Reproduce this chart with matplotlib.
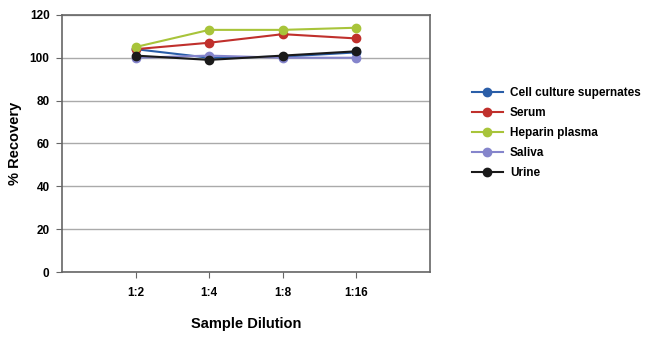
import matplotlib
matplotlib.use("Agg")
import matplotlib.pyplot as plt

plt.rcParams['font.family'] = ['Liberation Sans', 'DejaVu Sans']

dilutions = ["1:2", "1:4", "1:8", "1:16"]
cell_culture = [104, 100, 100.5, 102.5]
serum = [104, 107, 111, 109]
heparin = [105, 113, 113, 114]
saliva = [100, 101, 100, 100]
urine = [101, 99, 101, 103]

series = [
    ("Cell culture supernates", cell_culture, "#2a5ea8"),
    ("Serum", serum, "#c0302c"),
    ("Heparin plasma", heparin, "#a8c43a"),
    ("Saliva", saliva, "#8585cc"),
    ("Urine", urine, "#1a1a1a"),
]

fig = plt.figure(figsize=(6.5, 3.38), dpi=100)
ax = fig.add_axes([0.0954, 0.195, 0.566, 0.761])

x = list(range(1, len(dilutions) + 1))
for name, vals, col in series:
    ax.plot(x, vals, color=col, marker="o", markersize=6, linewidth=1.5, label=name, zorder=3)

ax.set_xlim(0, 5)
ax.set_ylim(0, 120)
ax.set_xticks(x)
ax.set_xticklabels(dilutions)
ax.set_yticks(range(0, 121, 20))
ax.yaxis.grid(True, color="#aaaaaa", linewidth=1)
ax.set_axisbelow(True)
for s in ax.spines.values():
    s.set_color("#666666")
    s.set_linewidth(1.2)
ax.tick_params(axis="both", colors="#666666", labelcolor="black", labelsize=8.5, length=4)
for lab in ax.get_xticklabels() + ax.get_yticklabels():
    lab.set_fontweight("bold")
ax.tick_params(axis="x", pad=7)
ax.tick_params(axis="y", pad=5)

ax.set_xlabel("Sample Dilution", fontsize=10.5, fontweight="bold")
ax.set_ylabel("% Recovery", fontsize=10.5, fontweight="bold")
ax.xaxis.set_label_coords(0.5, -0.175)
ax.yaxis.set_label_coords(-0.11, 0.5)

leg = fig.legend(loc="upper left", bbox_to_anchor=(0.71, 0.775), frameon=False,
                 prop={"weight": "bold", "size": 8.5}, handlelength=2.6,
                 handletextpad=0.6, labelspacing=0.68)

fig.savefig("out.png", dpi=100)
